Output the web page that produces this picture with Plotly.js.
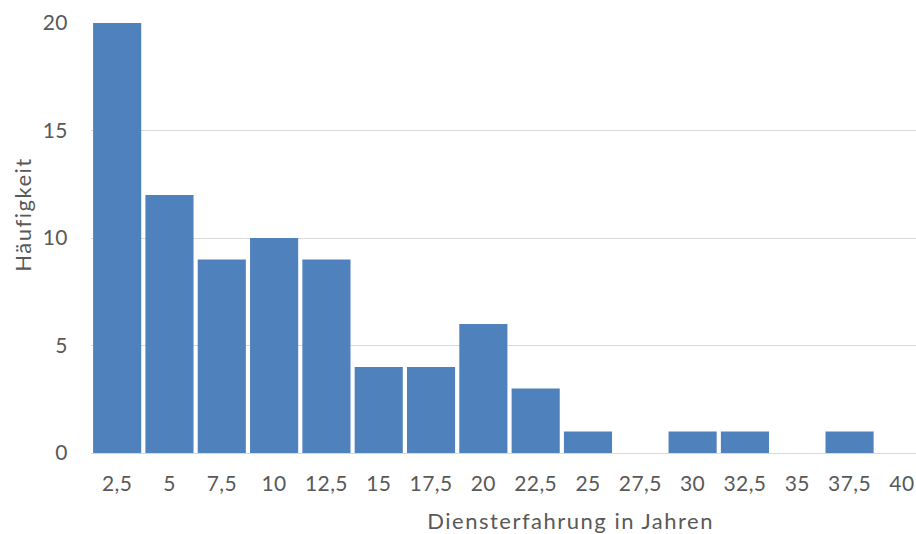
<!DOCTYPE html>
<html>
<head>
<meta charset="utf-8">
<script src="https://cdn.plot.ly/plotly-3.0.1.min.js"></script>
<style>
html,body{margin:0;padding:0;background:#fff;}
#chart{width:916px;height:534px;}
#chart .annotation-text{letter-spacing:1.5px;}
#chart .xtick text, #chart .ytick text{letter-spacing:0.4px;}
</style>
</head>
<body>
<div id="chart"></div>
<script>
var categories = ["2,5","5","7,5","10","12,5","15","17,5","20","22,5","25","27,5","30","32,5","35","37,5","40"];
var frequencies = [20, 12, 9, 10, 9, 4, 4, 6, 3, 1, 0, 1, 1, 0, 1, 0];
var yTicks = [0, 5, 10, 15, 20];
var xTitle = "Diensterfahrung in Jahren";
var yTitle = "Häufigkeit";

var font = "Lato, 'Open Sans', sans-serif";
var textColor = "#595959";

var trace = {
  type: "bar",
  x: categories.map(function(c, i){ return i; }),
  y: frequencies,
  marker: {color: "#4f81bd", line: {width: 0}},
  hoverinfo: "skip"
};

var layout = {
  width: 916, height: 534,
  margin: {l: 91, r: 0, t: 23, b: 81},
  paper_bgcolor: "#fff", plot_bgcolor: "#fff",
  bargap: 0.08,
  showlegend: false,
  font: {family: font, size: 21, color: textColor},
  xaxis: {
    range: [-0.5, 15.27],
    tickmode: "array",
    tickvals: categories.map(function(c, i){ return i; }),
    ticktext: categories,
    showgrid: false,
    zeroline: false,
    showline: false,
    ticks: "outside", ticklen: 0, tickcolor: "rgba(0,0,0,0)",
    ticklabelstandoff: 12,
    tickfont: {family: font, size: 21, color: textColor},
    fixedrange: true
  },
  yaxis: {
    range: [0, 20],
    tickmode: "array",
    tickvals: yTicks,
    ticktext: yTicks.map(String),
    showgrid: true, gridcolor: "#d9d9d9", gridwidth: 1,
    zeroline: true, zerolinecolor: "#d9d9d9", zerolinewidth: 1,
    showline: false,
    ticks: "outside", ticklen: 0, tickcolor: "rgba(0,0,0,0)",
    ticklabelstandoff: 18,
    tickfont: {family: font, size: 21, color: textColor},
    fixedrange: true
  },
  annotations: [
    {text: xTitle, xref: "paper", yref: "paper", x: (570 - 91) / 825, y: -(520 - 453) / 430,
     xanchor: "center", yanchor: "middle", showarrow: false,
     font: {family: font, size: 22, color: textColor}},
    {text: yTitle, xref: "paper", yref: "paper", x: (22 - 91) / 825, y: (453 - 215) / 430,
     xanchor: "center", yanchor: "middle", textangle: -90, showarrow: false,
     font: {family: font, size: 22, color: textColor}}
  ]
};

Plotly.newPlot("chart", [trace], layout, {staticPlot: true, displayModeBar: false});
</script>
</body>
</html>
